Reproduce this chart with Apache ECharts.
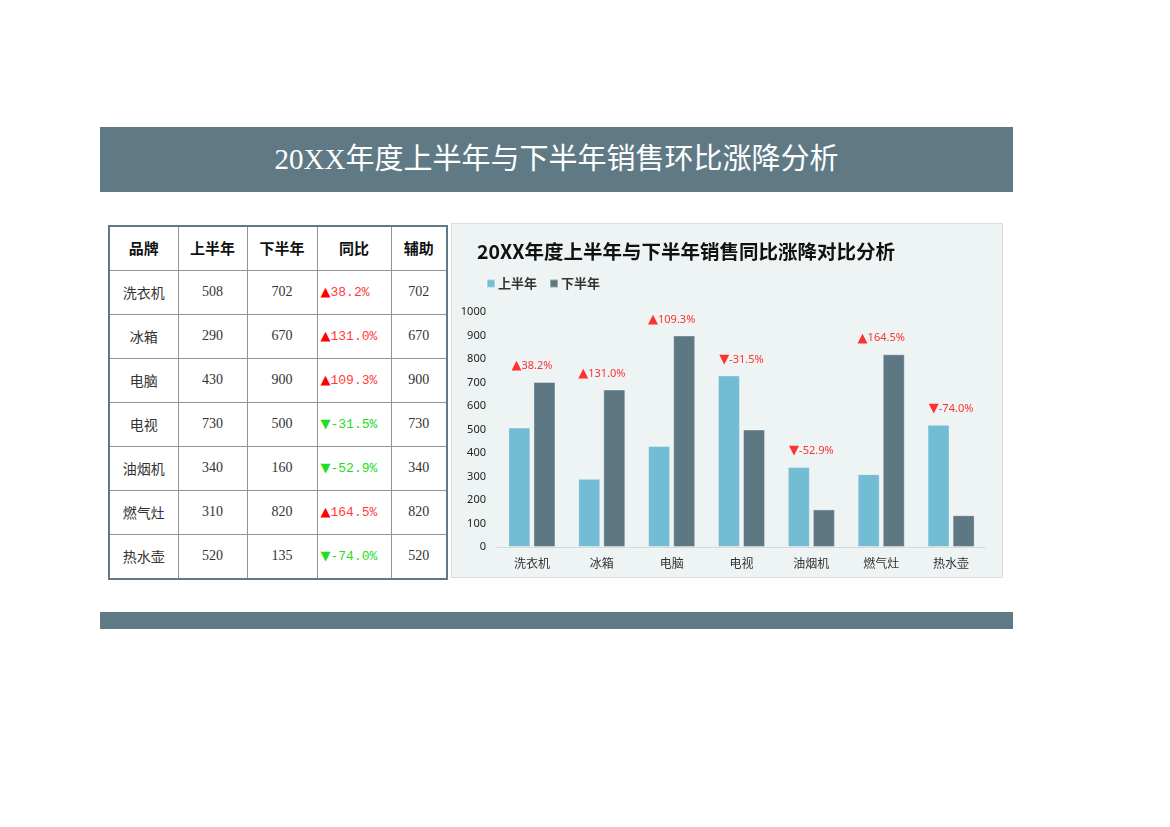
<!DOCTYPE html>
<html><head><meta charset="utf-8">
<script src="https://cdn.jsdelivr.net/npm/echarts@6/dist/echarts.min.js"></script>
<style>
html,body{margin:0;padding:0;background:#fff;}
body{width:1170px;height:827px;position:relative;overflow:hidden;font-family:"Noto Sans CJK SC",sans-serif;}
#banner{position:absolute;left:100px;top:127px;width:913px;height:65px;background:#5F7A85;color:#fff;
 font-family:"Liberation Serif","Noto Sans CJK SC",serif;font-size:29px;line-height:65px;text-align:center;}
#footer{position:absolute;left:100px;top:612px;width:913px;height:17px;background:#5F7A85;}
#panel{position:absolute;left:451px;top:223px;width:550px;height:353px;background:#EEF3F3;border:1px solid #D9DEDF;}
#tbl{position:absolute;left:108px;top:225px;width:338px;table-layout:fixed;border-collapse:collapse;border:2px solid #5F7A85;}
#tbl td{border:1px solid #8C979C;text-align:center;height:41px;padding:0 0 2px 0;font-family:"Liberation Serif","Noto Sans CJK SC",serif;font-size:14px;color:#333;overflow:hidden;white-space:nowrap;}
#tbl tr.h td{font-family:"Noto Sans CJK SC",sans-serif;font-weight:bold;font-size:15px;color:#111;}
#tbl td.up{color:#FF3B3B;} #tbl td.dn{color:#22DD22;}
#tbl td.pct{text-align:left;padding-left:3px;font-family:"Liberation Mono","Noto Sans CJK SC",monospace;font-size:13px;}
#chart{position:absolute;left:0;top:0;width:1170px;height:827px;}
.tri{font-family:"DejaVu Sans",sans-serif;font-size:13px;}
</style></head>
<body>
<div id="banner">20XX年度上半年与下半年销售环比涨降分析</div>
<div id="footer"></div>
<div id="panel"></div>
<table id="tbl"></table>
<div id="chart"></div>
<script>
const categories = ['洗衣机','冰箱','电脑','电视','油烟机','燃气灶','热水壶'];
const firstHalf  = [508, 290, 430, 730, 340, 310, 520];
const secondHalf = [702, 670, 900, 500, 160, 820, 135];
const yoyPct     = [38.2, 131.0, 109.3, -31.5, -52.9, 164.5, -74.0];
const helper     = [702, 670, 900, 730, 340, 820, 520];
const headers    = ['品牌','上半年','下半年','同比','辅助'];
const yTicks     = {min:0, max:1000, interval:100};

// table
const colW = [69,69,70,74,56];
const tbl = document.getElementById('tbl');
let html = '<colgroup>' + colW.map(w=>`<col style="width:${w}px">`).join('') + '</colgroup>';
html += '<tr class="h">' + headers.map(h=>`<td>${h}</td>`).join('') + '</tr>';
categories.forEach((c,i)=>{
  const p = yoyPct[i];
  const cls = p>=0 ? 'up' : 'dn';
  const tri = p>=0 ? '<span class="tri" style="color:#FF0000">▲</span>' : '<span class="tri" style="color:#22DD22">▼</span>';
  html += `<tr><td>${c}</td><td>${firstHalf[i]}</td><td>${secondHalf[i]}</td><td class="pct ${cls}">${tri}${p.toFixed(1)}%</td><td>${helper[i]}</td></tr>`;
});
tbl.innerHTML = html;

const chart = echarts.init(document.getElementById('chart'), null, {renderer:'canvas'});
chart.setOption({
  backgroundColor:'transparent',
  animation:false,
  title:{text:'20XX年度上半年与下半年销售同比涨降对比分析', left:472, top:237,
    textStyle:{fontFamily:'Noto Sans CJK SC', fontSize:19.5, fontWeight:'bold', color:'#111'}},
  legend:{left:481, top:272, itemWidth:8, itemHeight:8, itemGap:12, icon:'rect',
    data:['上半年','下半年'],
    textStyle:{fontFamily:'Noto Sans CJK SC', fontSize:13, fontWeight:'bold', color:'#333', padding:[0,0,0,-2]}},
  grid:{left:497, right:184, top:312, bottom:280, containLabel:false},
  xAxis:{type:'category', data:categories,
    axisLine:{lineStyle:{color:'#D9D9D9', width:1}}, axisTick:{show:false},
    axisLabel:{color:'#333', fontSize:12, margin:10, fontFamily:'Noto Sans CJK SC'}},
  yAxis:{type:'value', min:yTicks.min, max:yTicks.max, interval:yTicks.interval,
    splitLine:{show:false}, axisLine:{show:false}, axisTick:{show:false},
    axisLabel:{color:'#222', fontSize:11, margin:11, fontFamily:'Noto Sans', formatter:(v)=>String(v)}},
  series:[
    {name:'上半年', type:'bar', data:firstHalf, barWidth:22, barGap:'14%',
      itemStyle:{color:'#72BCD4', borderColor:'rgba(255,255,255,0.35)', borderWidth:1}},
    {name:'下半年', type:'bar', data:secondHalf, barWidth:22,
      itemStyle:{color:'#5E7883', borderColor:'rgba(255,255,255,0.35)', borderWidth:1}},
    {name:'辅助', type:'scatter', data:helper, symbolSize:1, itemStyle:{color:'rgba(0,0,0,0)'},
      z:5, silent:true,
      label:{show:true, position:'top', distance:9,
        formatter:(p)=>{const v=yoyPct[p.dataIndex]; return (v>=0?'{t|▲}':'{t|▼}')+'{v|'+v.toFixed(1)+'%}';},
        rich:{t:{color:'#FF0000', fontSize:13, fontFamily:'DejaVu Sans'},
              v:{color:'#FF0000', fontSize:11, fontFamily:'Noto Sans'}}}}
  ]
});
</script>
</body></html>
